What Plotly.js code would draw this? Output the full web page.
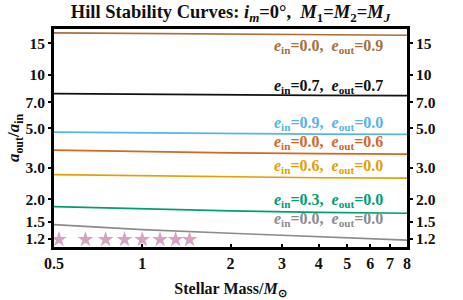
<!DOCTYPE html>
<html>
<head>
<meta charset="utf-8">
<script src="https://cdn.plot.ly/plotly-3.0.1.min.js"></script>
<style>html,body{margin:0;padding:0;background:#fff;}#chart{width:463px;height:300px;}</style>
</head>
<body>
<div id="chart"></div>
<script>
// Stellar masses (M_sun)
const mass = [0.5, 1, 2, 4, 8];
// a_out/a_in Hill stability curves
const ein00_eout09 = [17.1, 16.95, 16.8, 16.7, 16.6];
const ein07_eout07 = [7.82, 7.75, 7.70, 7.65, 7.62];
const ein09_eout00 = [4.76, 4.71, 4.67, 4.64, 4.62];
const ein00_eout06 = [3.77, 3.70, 3.64, 3.60, 3.58];
const ein06_eout00 = [2.75, 2.71, 2.67, 2.64, 2.63];
const ein03_eout00 = [1.82, 1.77, 1.72, 1.69, 1.67];
const ein00_eout00 = [1.44, 1.35, 1.29, 1.23, 1.18];
// star markers
const starMass = [0.52, 0.64, 0.75, 0.87, 1.0, 1.15, 1.3, 1.45];
const starRatio = [1.19, 1.19, 1.19, 1.19, 1.19, 1.19, 1.19, 1.19];
// ticks
const xTicks = [0.5, 1, 2, 3, 4, 5, 6, 7, 8];
const xTickText = ["0.5", "1", "2", "3", "4", "5", "6", "7", "8"];
const yTicks = [1.2, 1.5, 2, 3, 5, 7, 10, 15];
const yTickText = ["1.2", "1.5", "2.0", "3.0", "5.0", "7.0", "10", "15"];

const series = [
  {y: ein00_eout09, color: '#a8703a', ein: '0.0', eout: '0.9'},
  {y: ein07_eout07, color: '#111111', ein: '0.7', eout: '0.7'},
  {y: ein09_eout00, color: '#56b4e9', ein: '0.9', eout: '0.0'},
  {y: ein00_eout06, color: '#d2691e', ein: '0.0', eout: '0.6'},
  {y: ein06_eout00, color: '#e69f00', ein: '0.6', eout: '0.0'},
  {y: ein03_eout00, color: '#009e73', ein: '0.3', eout: '0.0'},
  {y: ein00_eout00, color: '#8c8c8c', ein: '0.0', eout: '0.0'}
];
const labelY = [14.4, 8.6, 5.32, 4.17, 3.06, 1.96, 1.55];

const FONT = 'Liberation Serif, Times New Roman, serif';
const traces = series.map(s => ({
  x: mass, y: s.y, type: 'scatter', mode: 'lines',
  line: {color: s.color, width: 1.7}, hoverinfo: 'skip', showlegend: false
}));
traces.push({
  x: starMass, y: starRatio, type: 'scatter', mode: 'markers',
  marker: {symbol: 'star', size: 12, color: '#d6a3c2', line: {width: 0}},
  showlegend: false, hoverinfo: 'skip'
});
// trace for the mirrored right axis
traces.push({
  x: mass, y: ein00_eout00, type: 'scatter', mode: 'lines', yaxis: 'y2',
  line: {color: 'rgba(0,0,0,0)', width: 0}, showlegend: false, hoverinfo: 'skip'
});

const annotations = series.map((s, i) => ({
  x: Math.log10(6.75), y: Math.log10(labelY[i]), xref: 'x', yref: 'y',
  xanchor: 'right', yanchor: 'middle', showarrow: false,
  text: '<i>e</i><sub>in</sub>=' + s.ein + ',\u00a0\u00a0<i>e</i><sub>out</sub>=' + s.eout,
  font: {family: FONT, size: 16, color: s.color, weight: 'bold'}
}));

const yRange = [Math.log10(1.08), Math.log10(18)];
const layout = {
  width: 463, height: 300,
  margin: {l: 54, r: 56, t: 29, b: 53},
  paper_bgcolor: '#fff', plot_bgcolor: '#fff',
  title: {
    text: 'Hill Stability Curves: <i>i</i><sub><i>m</i></sub>=0°,\u00a0 <i>M</i><sub>1</sub>=<i>M</i><sub>2</sub>=<i>M</i><sub><i>J</i></sub>',
    font: {family: FONT, size: 18.5, color: '#111', weight: 'bold'},
    x: 0.5, xanchor: 'center', y: 0.96, yanchor: 'middle', xref: 'paper'
  },
  xaxis: {
    type: 'log', range: [Math.log10(0.5), Math.log10(8)],
    tickvals: xTicks, ticktext: xTickText,
    ticks: 'inside', ticklen: 3, tickwidth: 2, tickcolor: '#000',
    showline: true, linewidth: 3, linecolor: '#000', mirror: true,
    showgrid: false, zeroline: false,
    tickfont: {family: FONT, size: 16, color: '#111', weight: 'bold'},
    title: {text: 'Stellar Mass/<i>M</i><sub>\u2299</sub>', standoff: 12,
      font: {family: FONT, size: 16, color: '#111', weight: 'bold'}}
  },
  yaxis: {
    type: 'log', range: yRange,
    tickvals: yTicks, ticktext: yTickText,
    ticks: 'outside', ticklen: 3, tickwidth: 2, tickcolor: '#000',
    showline: true, linewidth: 3, linecolor: '#000', mirror: true,
    showgrid: false, zeroline: false,
    tickfont: {family: FONT, size: 15.5, color: '#111', weight: 'bold'},
    title: {text: '<i>a</i><sub>out</sub>/<i>a</i><sub>in</sub>', standoff: 2,
      font: {family: FONT, size: 17, color: '#111', weight: 'bold'}}
  },
  yaxis2: {
    type: 'log', range: yRange, overlaying: 'y', side: 'right',
    tickvals: yTicks, ticktext: yTickText,
    ticks: 'outside', ticklen: 3, tickwidth: 2, tickcolor: '#000',
    showline: true, linewidth: 3, linecolor: '#000',
    showgrid: false, zeroline: false,
    tickfont: {family: FONT, size: 15.5, color: '#111', weight: 'bold'}
  },
  annotations: annotations
};

Plotly.newPlot('chart', traces, layout, {staticPlot: true, displayModeBar: false});
</script>
</body>
</html>
